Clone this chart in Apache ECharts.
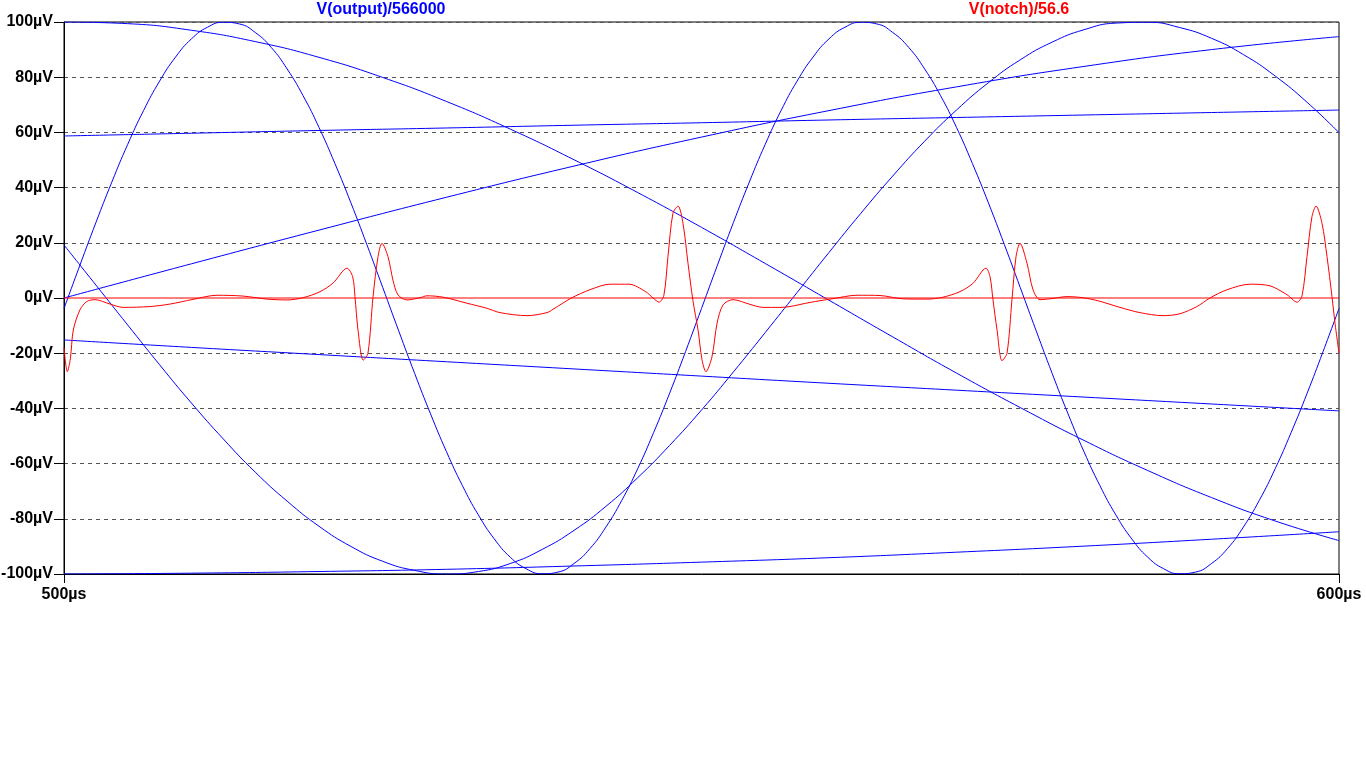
<!DOCTYPE html>
<html>
<head>
<meta charset="utf-8">
<script src="https://cdn.jsdelivr.net/npm/echarts@6/dist/echarts.min.js"></script>
<style>
html,body{margin:0;padding:0;background:#fff;}
#chart{width:1366px;height:768px;}
</style>
</head>
<body>
<div id="chart"></div>
<script>
// ---- data (time in µs, values in µV) ----
const xTicks = [500, 600];
const yTicks = [-100, -80, -60, -40, -20, 0, 20, 40, 60, 80, 100];
const seriesNames = ['V(output)/566000', 'V(notch)/56.6'];

const tFine = [500,501.25,502.5,503.75,505,506.25,507.5,508.75,510,511.25,512.5,513.75,515,516.25,517.5,518.75,520,521.25,522.5,523.75,525,526.25,527.5,528.75,530,531.25,532.5,533.75,535,536.25,537.5,538.75,540,541.25,542.5,543.75,545,546.25,547.5,548.75,550,551.25,552.5,553.75,555,556.25,557.5,558.75,560,561.25,562.5,563.75,565,566.25,567.5,568.75,570,571.25,572.5,573.75,575,576.25,577.5,578.75,580,581.25,582.5,583.75,585,586.25,587.5,588.75,590,591.25,592.5,593.75,595,596.25,597.5,598.75,600];
const tMid = [500,502.5,505,507.5,510,512.5,515,517.5,520,522.5,525,527.5,530,532.5,535,537.5,540,542.5,545,547.5,550,552.5,555,557.5,560,562.5,565,567.5,570,572.5,575,577.5,580,582.5,585,587.5,590,592.5,595,597.5,600];
const tCoarse = [500,505,510,515,520,525,530,535,540,545,550,555,560,565,570,575,580,585,590,595,600];
const tSlow = [500,510,520,530,540,550,560,570,580,590,600];

// blue trace segments of V(output)/566000
const outA = [-3.8,11.9,27.3,42.0,55.7,68.0,78.6,87.3,93.9,98.1,99.9,99.3,96.2,90.8,83.0,73.3,61.8,48.7,34.5,19.4,3.8,
  -11.9,-27.3,-42.0,-55.7,-68.0,-78.6,-87.3,-93.9,-98.1,-99.9,-99.3,-96.2,-90.8,-83.0,-73.3,-61.8,-48.7,-34.5,-19.4,-3.8,
  11.9,27.3,42.0,55.7,68.0,78.6,87.3,93.9,98.1,99.9,99.3,96.2,90.8,83.0,73.3,61.8,48.7,34.5,19.4,3.8,
  -11.9,-27.3,-42.0,-55.7,-68.0,-78.6,-87.3,-93.9,-98.1,-99.9,-99.3,-96.2,-90.8,-83.0,-73.3,-61.8,-48.7,-34.5,-19.4,-3.8];
const outG = [19.2,4.7,-9.8,-24.2,-38.1,-51.1,-63.1,-73.6,-82.7,-90.0,-95.4,-98.7,-100.0,-99.1,-96.2,-91.1,-84.2,-75.5,-65.1,-53.4,-40.6,-26.8,-12.5,2.0,16.5,30.7,44.2,56.8,68.1,78.0,86.3,92.7,97.2,99.6,99.9,98.0,94.1,88.2,80.4,70.9,59.9];
const outB = [100.0,99.4,97.0,92.9,87.2,79.9,71.2,61.2,50.1,38.2,25.6,12.5,-0.8,-14.1,-27.2,-39.7,-51.6,-62.5,-72.3,-80.8,-87.9];
const outC = [0,12.4,24.6,36.5,47.8,58.3,67.9,76.5,83.9,90.0,94.7];
const outD = [58.7,59.7,60.7,61.6,62.6,63.5,64.5,65.4,66.3,67.2,68.1];
const outE = [-15.2,-17.9,-20.5,-23.1,-25.7,-28.3,-30.9,-33.4,-35.9,-38.4,-40.9];
const outF = [-100.0,-99.7,-99.1,-98.3,-97.1,-95.7,-94.1,-92.1,-89.9,-87.4,-84.7];

// red trace V(notch)/56.6
const notchT = [500.00,500.26,500.50,500.73,501.25,501.78,502.43,503.61,504.63,506.75,508.31,510.12,512.00,514.04,515.92,517.49,518.75,520.08,521.10,522.20,522.64,522.82,523.06,523.47,523.84,524.24,524.63,524.94,525.41,525.80,526.20,526.90,527.92,528.47,529.73,531.61,533.15,534.20,536.31,537.88,538.35,539.80,541.25,542.82,544.31,545.62,546.20,546.67,547.05,547.37,547.76,548.16,548.55,548.94,549.33,549.73,550.04,550.35,550.82,551.22,551.69,552.47,553.80,554.82,556.16,556.94,558.51,560.24,562.20,564.00,565.80,567.69,568.86,570.27,571.29,572.31,572.63,572.86,573.18,573.57,573.96,574.35,574.67,574.98,575.53,576.00,576.55,577.33,578.67,579.92,581.25,582.82,584.39,586.20,587.53,588.86,589.88,591.22,593.02,594.59,595.92,596.71,597.10,597.49,597.88,598.20,598.67,599.06,599.45,599.69,600.00];
const notchV = [-18,-26.7,-22,-11.6,-4.3,-1.3,-0.6,-2.2,-3.4,-3.1,-2.2,-0.5,1.0,0.7,-0.4,-0.7,0.1,2.3,5.4,10.8,7.7,0.5,-11.6,-22.5,-20,0.5,15,19.8,15,6.5,1.1,-0.7,0.1,0.8,0.3,-1.9,-3.7,-5.3,-6.4,-5.3,-4.1,0,3.0,5.0,5.0,2.3,0,-1.5,1.0,15,30.7,33.3,27,12.6,-1,-11.6,-22.4,-26.7,-21.3,-9.2,-2.5,-0.6,-2.3,-3.4,-3.4,-3.1,-1.6,-0.3,1.0,0.9,-0.3,-0.4,0.2,2.3,5.3,10.8,7.7,-0.6,-11.6,-22.7,-20,-0.6,15,19.8,12.6,3,-0.6,-0.3,0.5,0.1,-1.2,-3.4,-5.3,-6.4,-5.7,-3.1,0,3,5,4.4,1.2,-1.5,0.8,15,29.5,33.3,27,15,0.5,-9.2,-20];
const notchFlatT = [500, 600];
const notchFlatV = [0, 0];

// ---- build ----
const zip = (t, v) => t.map((x, i) => [x, v[i]]);
const BLUE = '#0000ff', RED = '#ff0000';
const FONT = '"Liberation Sans", Arial, sans-serif';
// dashed grid colour per tick; the 0 line is covered by the red trace
const gridColors = yTicks.map(v => v === 0 ? 'rgba(0,0,0,0)' : '#555555');

function blue(data) {
  return { name: seriesNames[0], type: 'line', data: data, symbol: 'none', smooth: true,
    lineStyle: { color: BLUE, width: 1 }, itemStyle: { color: BLUE }, z: 2 };
}

const chart = echarts.init(document.getElementById('chart'), null, { renderer: 'canvas' });
chart.setOption({
  animation: false,
  backgroundColor: '#ffffff',
  grid: { left: 64, right: 27, top: 22, bottom: 194, show: true, borderColor: '#000', borderWidth: 1,
    backgroundColor: 'transparent', containLabel: false, outerBoundsMode: 'none' },
  graphic: [
    { type: 'text', x: 381, y: 10, style: { text: seriesNames[0], fill: BLUE, font: 'bold 16px ' + FONT, align: 'center', verticalAlign: 'middle' } },
    { type: 'text', x: 1019, y: 10, style: { text: seriesNames[1], fill: RED, font: 'bold 16px ' + FONT, align: 'center', verticalAlign: 'middle' } }
  ],
  xAxis: {
    type: 'value', min: xTicks[0], max: xTicks[xTicks.length - 1], interval: xTicks[1] - xTicks[0],
    axisLine: { show: true, onZero: false, lineStyle: { color: '#000', width: 1 } },
    axisTick: { show: true, length: 9, lineStyle: { color: '#000' } },
    axisLabel: { color: '#000', fontSize: 16, fontWeight: 'bold', fontFamily: FONT, margin: 13, formatter: v => v + 'µs' },
    splitLine: { show: false }
  },
  yAxis: {
    type: 'value', min: yTicks[0], max: yTicks[yTicks.length - 1], interval: yTicks[1] - yTicks[0],
    axisLine: { show: true, onZero: false, lineStyle: { color: '#000', width: 1 } },
    axisTick: { show: true, length: 10, lineStyle: { color: '#000' } },
    axisLabel: { color: '#000', fontSize: 16, fontWeight: 'bold', fontFamily: FONT, margin: 11, formatter: v => v + 'µV' },
    splitLine: { show: true, lineStyle: { color: gridColors, width: 1, type: [4, 4] } }
  },
  series: [
    blue(zip(tFine, outA)),
    blue(zip(tCoarse, outB)),
    blue(zip(tMid, outG)),
    blue(zip(tSlow, outC)),
    blue(zip(tSlow, outD)),
    blue(zip(tSlow, outE)),
    blue(zip(tSlow, outF)),
    { name: seriesNames[1], type: 'line', data: zip(notchFlatT, notchFlatV), symbol: 'none',
      lineStyle: { color: RED, width: 1 }, z: 3 },
    { name: seriesNames[1], type: 'line', data: zip(notchT, notchV), symbol: 'none', smooth: 0.3,
      lineStyle: { color: RED, width: 1 }, z: 3 }
  ]
});
</script>
</body>
</html>
